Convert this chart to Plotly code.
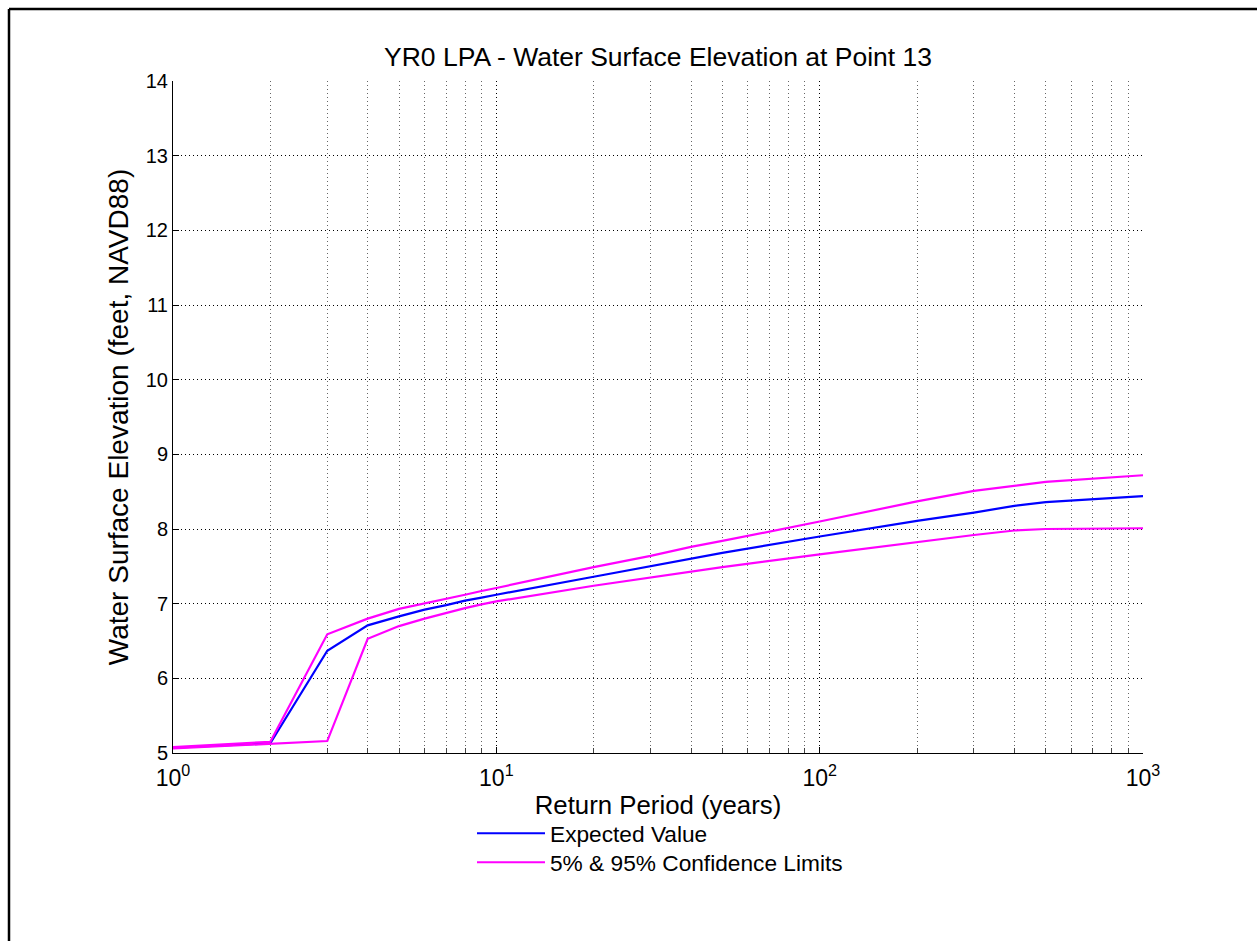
import plotly.graph_objects as go

# Return periods (years)
return_period = [1, 2, 3, 4, 5, 6, 7, 8, 9, 10, 20, 30, 40, 50, 100, 200, 300, 400, 500, 1000]

expected = [5.07, 5.13, 6.37, 6.71, 6.83, 6.92, 6.98, 7.04, 7.08, 7.12, 7.36, 7.50, 7.60, 7.68, 7.90, 8.11, 8.22, 8.31, 8.36, 8.44]
upper_95 = [5.08, 5.15, 6.59, 6.80, 6.93, 7.00, 7.06, 7.12, 7.17, 7.21, 7.49, 7.64, 7.76, 7.84, 8.10, 8.37, 8.51, 8.58, 8.63, 8.72]
lower_5 = [5.06, 5.12, 5.16, 6.53, 6.70, 6.80, 6.88, 6.94, 6.99, 7.03, 7.24, 7.35, 7.43, 7.49, 7.66, 7.83, 7.92, 7.98, 8.00, 8.01]

x_tickvals = [1, 10, 100, 1000]
x_ticktext = ["10<sup>0</sup>", "10<sup>1</sup>", "10<sup>2</sup>", "10<sup>3</sup>"]
minor_vals = [m * 10 ** d for d in range(3) for m in range(2, 10)]

BLUE = "#0000ff"
MAGENTA = "#ff00ff"
FONT = "Liberation Sans, Arial, sans-serif"
DOT = "1px,3px"

fig = go.Figure()
fig.add_trace(go.Scatter(x=return_period, y=expected, mode="lines",
                         line=dict(color=BLUE, width=2.2), name="Expected Value",
                         legend="legend"))
fig.add_trace(go.Scatter(x=return_period, y=upper_95, mode="lines",
                         line=dict(color=MAGENTA, width=2.2), name="5% & 95% Confidence Limits",
                         legend="legend2"))
fig.add_trace(go.Scatter(x=return_period, y=lower_5, mode="lines",
                         line=dict(color=MAGENTA, width=2.2), name="5% & 95% Confidence Limits",
                         showlegend=False, legend="legend2"))

L, R, T, B = 173, 114, 81, 188
W, H = 1257, 941
pw, ph = W - L - R, H - T - B

def px_to_paper_x(px):
    return (px - L) / pw

def px_to_paper_y(py):
    return (H - B - py) / ph

legend_common = dict(xanchor="left", yanchor="top", bgcolor="rgba(0,0,0,0)",
                     borderwidth=0, font=dict(size=22.7), itemwidth=68, tracegroupgap=0)

fig.update_layout(
    width=W, height=H,
    margin=dict(l=L, r=R, t=T, b=B, pad=0),
    paper_bgcolor="white", plot_bgcolor="white",
    font=dict(family=FONT, color="black", size=20),
    title=dict(text="YR0 LPA - Water Surface Elevation at Point 13",
               x=0.5, xref="paper", xanchor="center",
               y=1 - 57 / H, yanchor="middle", font=dict(size=26.5)),
    showlegend=True,
    legend=dict(x=px_to_paper_x(472), y=px_to_paper_y(812), **legend_common),
    legend2=dict(x=px_to_paper_x(472), y=px_to_paper_y(841), **legend_common),
    xaxis=dict(type="log", range=[0, 3], tickmode="array", tickvals=x_tickvals,
               ticktext=x_ticktext, ticks="inside", ticklen=6, tickcolor="black",
               showline=True, linecolor="black", linewidth=1, mirror=False,
               showgrid=True, gridcolor="black", griddash=DOT, gridwidth=1,
               zeroline=False, tickfont=dict(size=23), ticklabelstandoff=4,
               title=dict(text="Return Period (years)", font=dict(size=25.8), standoff=6),
               minor=dict(tickmode="array", tickvals=minor_vals, ticks="inside", ticklen=5,
                          tickcolor="#444444", showgrid=True, gridcolor="#666666",
                          griddash=DOT, gridwidth=1)),
    yaxis=dict(range=[5, 14], dtick=1, tick0=5, ticks="inside", ticklen=6, tickcolor="black",
               showline=True, linecolor="black", linewidth=1, mirror=False,
               showgrid=True, gridcolor="black", griddash=DOT, gridwidth=1,
               zeroline=False, tickfont=dict(size=20),
               title=dict(text="Water Surface Elevation (feet, NAVD88)", font=dict(size=28), standoff=8)),
)

# Outer figure frame (left and top edges visible)
fig.add_shape(type="line", xref="paper", yref="paper",
              x0=px_to_paper_x(9), x1=px_to_paper_x(9),
              y0=px_to_paper_y(9), y1=px_to_paper_y(H + 5),
              line=dict(color="black", width=2.5))
fig.add_shape(type="line", xref="paper", yref="paper",
              x0=px_to_paper_x(9), x1=px_to_paper_x(W + 5),
              y0=px_to_paper_y(9), y1=px_to_paper_y(9),
              line=dict(color="black", width=2.5))

fig.write_html("out.html")
